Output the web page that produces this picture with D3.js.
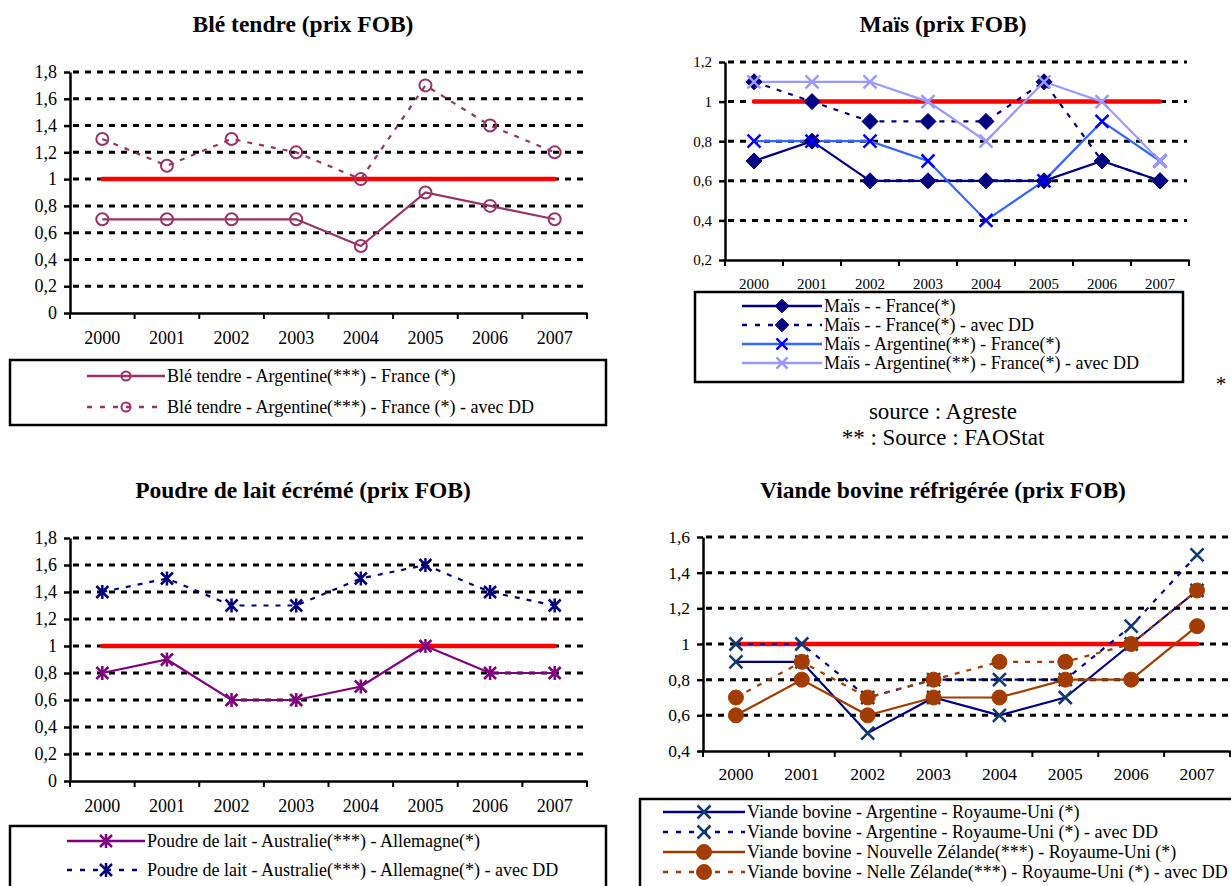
<!DOCTYPE html>
<html>
<head>
<meta charset="utf-8">
<script src="https://cdn.jsdelivr.net/npm/d3@7"></script>
<style>
  body { margin: 0; background: #fff; }
  svg { display: block; }
  svg text { font-family: "Liberation Serif", "DejaVu Serif", serif !important; fill: #000; }
</style>
</head>
<body>
<svg id="chart" width="1231" height="886"></svg>
<script>
// Years shared by all four panels
const years = ["2000", "2001", "2002", "2003", "2004", "2005", "2006", "2007"];

// Blé tendre
const bleArgFr = [0.7, 0.7, 0.7, 0.7, 0.5, 0.9, 0.8, 0.7];
const bleArgFrDD = [1.3, 1.1, 1.3, 1.2, 1.0, 1.7, 1.4, 1.2];
const bleTicks = [0, 0.2, 0.4, 0.6, 0.8, 1, 1.2, 1.4, 1.6, 1.8];

// Maïs
const maisFr = [0.7, 0.8, 0.6, 0.6, 0.6, 0.6, 0.7, 0.6];
const maisFrDD = [1.1, 1.0, 0.9, 0.9, 0.9, 1.1, 0.7, 0.6];
const maisArgFr = [0.8, 0.8, 0.8, 0.7, 0.4, 0.6, 0.9, 0.7];
const maisArgFrDD = [1.1, 1.1, 1.1, 1.0, 0.8, 1.1, 1.0, 0.7];
const maisTicks = [0.2, 0.4, 0.6, 0.8, 1, 1.2];

// Poudre de lait écrémé
const laitAusAll = [0.8, 0.9, 0.6, 0.6, 0.7, 1.0, 0.8, 0.8];
const laitAusAllDD = [1.4, 1.5, 1.3, 1.3, 1.5, 1.6, 1.4, 1.3];
const laitTicks = [0, 0.2, 0.4, 0.6, 0.8, 1, 1.2, 1.4, 1.6, 1.8];

// Viande bovine réfrigérée
const viandeArgRU = [0.9, 0.9, 0.5, 0.7, 0.6, 0.7, 1.0, 1.3];
const viandeArgRUDD = [1.0, 1.0, 0.7, 0.8, 0.8, 0.8, 1.1, 1.5];
const viandeNzRU = [0.6, 0.8, 0.6, 0.7, 0.7, 0.8, 0.8, 1.1];
const viandeNzRUDD = [0.7, 0.9, 0.7, 0.8, 0.9, 0.9, 1.0, 1.3];
const viandeTicks = [0.4, 0.6, 0.8, 1, 1.2, 1.4, 1.6];

// Parity reference value drawn in red
const parity = [1, 1, 1, 1, 1, 1, 1, 1];

const svg = d3.select("#chart");

function marker(g, type, color, x, y, k = 1) {
  if (type === "circle") {
    g.append("circle").attr("cx", x).attr("cy", y).attr("r", 6 * k)
      .attr("fill", "none").attr("stroke", color).attr("stroke-width", 2);
  } else if (type === "dot") {
    g.append("circle").attr("cx", x).attr("cy", y).attr("r", 7.5 * k)
      .attr("fill", color).attr("stroke", color).attr("stroke-width", 1);
  } else if (type === "diamond") {
    const s = 8 * k;
    g.append("path").attr("d", `M${x},${y - s}L${x + s},${y}L${x},${y + s}L${x - s},${y}Z`)
      .attr("fill", color).attr("stroke", color).attr("stroke-width", 1);
  } else if (type === "x") {
    const s = 6.5 * k;
    g.append("path").attr("d", `M${x - s},${y - s}L${x + s},${y + s}M${x - s},${y + s}L${x + s},${y - s}`)
      .attr("stroke", color).attr("stroke-width", 2.5).attr("fill", "none");
  } else if (type === "star") {
    const s = 6 * k;
    g.append("path").attr("d", `M${x - s},${y - s}L${x + s},${y + s}M${x - s},${y + s}L${x + s},${y - s}M${x},${y - s - 1}L${x},${y + s + 1}`)
      .attr("stroke", color).attr("stroke-width", 2.5).attr("fill", "none");
  }
}

function panel(cfg) {
  const g = svg.append("g");
  const x = d3.scaleBand().domain(years).range([cfg.x0, cfg.x1]);
  const y = d3.scaleLinear().domain(cfg.domain).range([cfg.y1, cfg.y0]);
  const cx = d => x(d) + x.bandwidth() / 2;

  // title
  g.append("text").attr("x", cfg.titleX).attr("y", cfg.titleY)
    .attr("text-anchor", "middle").attr("font-weight", "bold")
    .attr("font-size", 23.5).text(cfg.title);

  // dashed grid lines
  cfg.ticks.filter(t => t !== cfg.domain[0]).forEach(t => {
    g.append("line").attr("x1", cfg.x0 + 3).attr("x2", cfg.x1 - 2)
      .attr("y1", y(t)).attr("y2", y(t))
      .attr("stroke", "#000").attr("stroke-width", 3).attr("stroke-dasharray", "6,6");
  });

  // y axis
  const ya = g.append("g").attr("transform", `translate(${cfg.x0},0)`)
    .call(d3.axisLeft(y).tickValues(cfg.ticks).tickSize(6).tickSizeOuter(0).tickPadding(cfg.yPad)
      .tickFormat(d => String(d).replace(".", ",")));
  ya.select(".domain").attr("stroke-width", 2.5);
  ya.selectAll(".tick line").attr("stroke-width", 2.5);
  ya.selectAll(".tick text").attr("font-size", cfg.fs);

  // x axis with ticks at band edges
  const xa = g.append("g").attr("transform", `translate(0,${cfg.y1})`)
    .call(d3.axisBottom(x).tickSize(0).tickPadding(cfg.xPad));
  xa.select(".domain").attr("stroke-width", 2.5);
  xa.selectAll(".tick text").attr("font-size", cfg.fs);
  const edges = years.map(d => x(d)).concat([cfg.x1]);
  edges.forEach(e => {
    g.append("line").attr("x1", e).attr("x2", e).attr("y1", cfg.y1).attr("y2", cfg.y1 + 6)
      .attr("stroke", "#000").attr("stroke-width", 2);
  });

  // parity line
  const line = d3.line().x((d, i) => cx(years[i])).y(d => y(d));
  g.append("path").datum(parity).attr("d", line)
    .attr("fill", "none").attr("stroke", "#ff0000").attr("stroke-width", 4.5)
    .attr("stroke-linecap", "round");

  // series
  cfg.series.forEach(s => {
    g.append("path").datum(s.values).attr("d", line)
      .attr("fill", "none").attr("stroke", s.color).attr("stroke-width", 2.2)
      .attr("stroke-dasharray", s.dash ? "5,7" : null);
  });
  cfg.series.forEach(s => {
    s.values.forEach((v, i) => marker(g, s.marker, s.markerColor || s.color, cx(years[i]), y(v)));
  });

  // legend
  const L = cfg.legend;
  g.append("rect").attr("x", L.x).attr("y", L.y).attr("width", L.w).attr("height", L.h)
    .attr("fill", "none").attr("stroke", "#000").attr("stroke-width", 2.5);
  cfg.series.forEach((s, i) => {
    const ly = L.y + L.first + i * L.step;
    g.append("line").attr("x1", L.lx0).attr("x2", L.lx1).attr("y1", ly).attr("y2", ly)
      .attr("stroke", s.color).attr("stroke-width", 2.5)
      .attr("stroke-dasharray", s.dash ? "5,8" : null);
    marker(g, s.marker, s.markerColor || s.color, (L.lx0 + L.lx1) / 2, ly, L.mk);
    g.append("text").attr("x", L.lx1 + 2).attr("y", ly).attr("dy", "0.33em")
      .attr("font-size", L.fs).text(s.name);
  });
}

panel({
  title: "Blé tendre (prix FOB)", titleX: 303, titleY: 32,
  x0: 70, x1: 587, y0: 72, y1: 313, domain: [0, 1.8], ticks: bleTicks, fs: 18, xPad: 18, yPad: 7,
  series: [
    { name: "Blé tendre - Argentine(***) - France (*)", values: bleArgFr, color: "#993366", marker: "circle" },
    { name: "Blé tendre - Argentine(***) - France (*) - avec DD", values: bleArgFrDD, color: "#993366", marker: "circle", dash: true }
  ],
  legend: { x: 10, y: 360, w: 596, h: 65, first: 16, step: 31, lx0: 87, lx1: 165, fs: 18, mk: 0.75 }
});

panel({
  title: "Maïs (prix FOB)", titleX: 943, titleY: 32,
  x0: 725, x1: 1189, y0: 62, y1: 260, domain: [0.2, 1.2], ticks: maisTicks, fs: 15, xPad: 18, yPad: 7,
  series: [
    { name: "Maïs -  - France(*)", values: maisFr, color: "#000080", marker: "diamond" },
    { name: "Maïs -  - France(*) - avec DD", values: maisFrDD, color: "#000080", marker: "diamond", dash: true },
    { name: "Maïs - Argentine(**) - France(*)", values: maisArgFr, color: "#3366ff", marker: "x", markerColor: "#0000ff" },
    { name: "Maïs - Argentine(**) - France(*) - avec DD", values: maisArgFrDD, color: "#9999ff", marker: "x" }
  ],
  legend: { x: 695, y: 292, w: 488, h: 90, first: 14, step: 19, lx0: 742, lx1: 822, fs: 18, mk: 0.85 }
});

panel({
  title: "Poudre de lait écrémé (prix FOB)", titleX: 303, titleY: 498,
  x0: 70, x1: 587, y0: 538, y1: 781, domain: [0, 1.8], ticks: laitTicks, fs: 18, xPad: 18, yPad: 7,
  series: [
    { name: "Poudre de lait - Australie(***) - Allemagne(*)", values: laitAusAll, color: "#800080", marker: "star" },
    { name: "Poudre de lait - Australie(***) - Allemagne(*) - avec DD", values: laitAusAllDD, color: "#000080", marker: "star", dash: true }
  ],
  legend: { x: 10, y: 826, w: 596, h: 70, first: 15, step: 29, lx0: 67, lx1: 145, fs: 18, mk: 1 }
});

panel({
  title: "Viande bovine réfrigérée (prix FOB)", titleX: 943, titleY: 498,
  x0: 703, x1: 1230, y0: 537, y1: 751, domain: [0.4, 1.6], ticks: viandeTicks, fs: 17.5, xPad: 17, yPad: 7,
  series: [
    { name: "Viande bovine - Argentine - Royaume-Uni (*)", values: viandeArgRU, color: "#000080", marker: "x", markerColor: "#0e3b6e" },
    { name: "Viande bovine - Argentine - Royaume-Uni (*) - avec DD", values: viandeArgRUDD, color: "#0000a0", marker: "x", markerColor: "#0e3b6e", dash: true },
    { name: "Viande bovine - Nouvelle Zélande(***) - Royaume-Uni (*)", values: viandeNzRU, color: "#a33c00", marker: "dot" },
    { name: "Viande bovine - Nelle Zélande(***) - Royaume-Uni (*) - avec DD", values: viandeNzRUDD, color: "#a33c00", marker: "dot", dash: true }
  ],
  legend: { x: 640, y: 799, w: 600, h: 100, first: 13, step: 20, lx0: 663, lx1: 745, fs: 18, mk: 1 }
});

// notes under the Maïs panel
svg.append("text").attr("x", 1221).attr("y", 391).attr("text-anchor", "middle")
  .attr("font-size", 21).text("*");
svg.append("text").attr("x", 943).attr("y", 419).attr("text-anchor", "middle")
  .attr("font-size", 23).text("source : Agreste");
svg.append("text").attr("x", 943).attr("y", 445).attr("text-anchor", "middle")
  .attr("font-size", 23).text("** : Source : FAOStat");
</script>
</body>
</html>
